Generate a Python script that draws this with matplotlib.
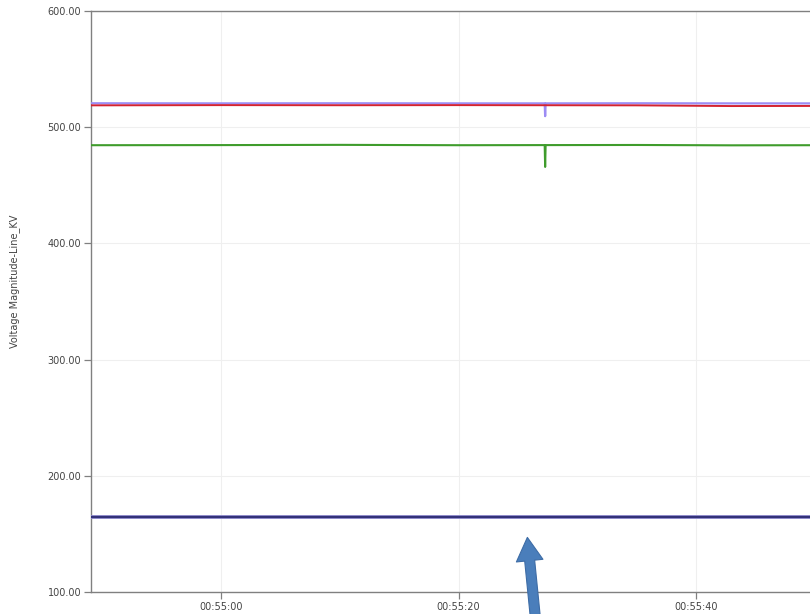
import matplotlib
matplotlib.use("Agg")
import matplotlib.pyplot as plt
import matplotlib.dates as mdates
import pandas as pd

# ----------------------------------------------------------------------
#   data: line voltage magnitudes (kV) per phase over time
# ----------------------------------------------------------------------
times = pd.to_datetime([
    "2020-01-01 00:54:49.0", "2020-01-01 00:55:00.0", "2020-01-01 00:55:10.0",
    "2020-01-01 00:55:20.0", "2020-01-01 00:55:27.26", "2020-01-01 00:55:27.30",
    "2020-01-01 00:55:27.34", "2020-01-01 00:55:35.0", "2020-01-01 00:55:43.0",
    "2020-01-01 00:55:50.0"])

phase_a = [520.6, 520.5, 520.6, 520.5, 520.5, 509.5, 520.5, 520.6, 520.5, 520.5]
phase_b = [518.8, 519.0, 518.9, 519.0, 518.9, 518.9, 518.9, 518.8, 518.2, 518.3]
phase_c = [484.5, 484.6, 484.8, 484.5, 484.6, 465.8, 484.6, 484.7, 484.4, 484.5]
low_side_1 = [164.6] * len(times)
low_side_2 = [164.4] * len(times)

y_ticks = [100, 200, 300, 400, 500, 600]
x_ticks = pd.to_datetime(["2020-01-01 00:55:00", "2020-01-01 00:55:20",
                          "2020-01-01 00:55:40"])

# ----------------------------------------------------------------------
#   plot
# ----------------------------------------------------------------------
fig = plt.figure(figsize=(8.1, 6.14), dpi=100)
ax = fig.add_axes([0.1123, 0.0358, 0.8877 + 0.02, 0.9463])

ax.plot(times, phase_a, color="#9d8cf4", linewidth=1.6, zorder=3)
ax.plot(times, phase_b, color="#d42330", linewidth=1.4, zorder=4)
ax.plot(times, phase_c, color="#3f9c2c", linewidth=1.5, zorder=3)
ax.plot(times, low_side_1, color="#8a86c8", linewidth=2.8, zorder=3)
ax.plot(times, low_side_2, color="#22226a", linewidth=1.2, zorder=4)

ax.set_ylim(100, 600)
ax.set_xlim(pd.Timestamp("2020-01-01 00:54:49.0"),
            pd.Timestamp("2020-01-01 00:55:51.0"))
ax.set_yticks(y_ticks)
ax.yaxis.set_major_formatter(plt.FuncFormatter(lambda v, p: "%.2f" % v))
ax.set_xticks(x_ticks)
ax.xaxis.set_major_formatter(mdates.DateFormatter("%H:%M:%S"))

ax.grid(True, color="#efefef", linewidth=0.8, zorder=0)
for side in ["left", "bottom", "top"]:
    ax.spines[side].set_color("#808080")
    ax.spines[side].set_linewidth(1.0)
ax.spines["right"].set_visible(False)
ax.tick_params(axis="both", direction="out", length=5, width=0.9,
               color="#808080", labelsize=7, labelcolor="#444444", pad=2)

ax.set_ylabel("Voltage Magnitude-Line_KV", fontsize=7, color="#444444")
ax.yaxis.set_label_coords(-0.096, 0.534)

# pointer to the low-side trace
ax.annotate("", xy=(pd.Timestamp("2020-01-01 00:55:25.8"), 147.0),
            xytext=(0.662, -0.02), textcoords="figure fraction",
            annotation_clip=False,
            arrowprops=dict(arrowstyle="simple,head_length=1.05,head_width=1.2,tail_width=0.45",
                            mutation_scale=16, facecolor="#4a7ebb",
                            edgecolor="#3d6ca6", linewidth=0.8,
                            shrinkA=0, shrinkB=0))

fig.savefig("out.png", dpi=100)
